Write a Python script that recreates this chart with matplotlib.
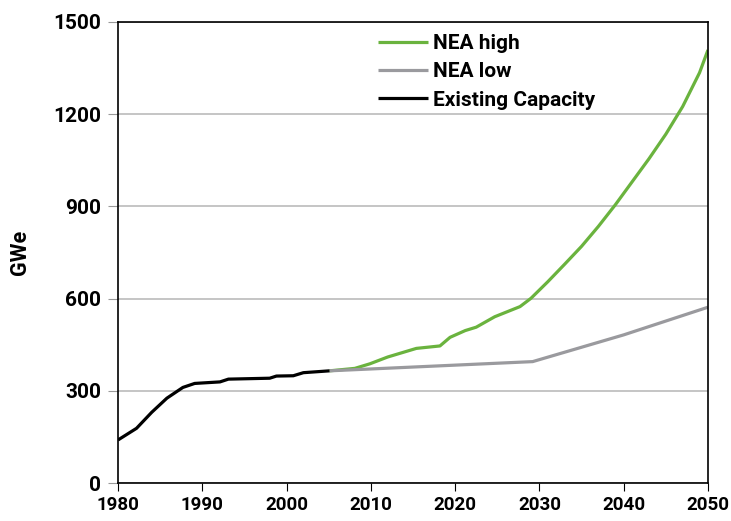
import matplotlib
matplotlib.use("Agg")
import matplotlib.pyplot as plt

# Existing capacity (GWe)
exist_years = [1980, 1982.2, 1984, 1985.8, 1987.7, 1989.1, 1992.1, 1993.1, 1998.0, 1998.8, 2000.8, 2002.0, 2005.1]
exist_vals = [140, 178, 230, 276, 311, 324, 329, 338, 341, 348, 349, 359, 365]

# NEA high projection
high_years = [2005.1, 2008.1, 2009.9, 2012, 2015.4, 2018.2, 2019.4, 2021.2, 2022.5, 2024.7, 2027.7,
              2029.0, 2031, 2033, 2035, 2037, 2039, 2041, 2043, 2045, 2047, 2049, 2050]
high_vals = [365, 373, 388, 410, 438, 446, 474, 496, 507, 541, 574,
             601, 655, 712, 770, 835, 905, 980, 1055, 1135, 1225, 1335, 1409]

# NEA low projection
low_years = [2005.1, 2029.2, 2040, 2050]
low_vals = [365, 395, 482, 572]

plt.rcParams['font.family'] = ['Roboto', 'DejaVu Sans']

fig = plt.figure(figsize=(7.31, 5.21), dpi=100)
ax = fig.add_axes([0.1614, 0.0729, 0.8071, 0.8849])

ax.plot(high_years, high_vals, color='#6ab33e', lw=2.3, label='NEA high', solid_capstyle='butt')
ax.plot(low_years, low_vals, color='#9a9a9e', lw=2.3, label='NEA low', solid_capstyle='butt')
ax.plot(exist_years, exist_vals, color='black', lw=2.3, label='Existing Capacity', solid_capstyle='butt')

ax.set_xlim(1980, 2050)
ax.set_ylim(0, 1500)
ax.set_xticks(range(1980, 2051, 10))
ax.set_yticks(range(0, 1501, 300))
ax.grid(axis='y', color='#bbbbbb', lw=1.2)
ax.set_axisbelow(True)

for s in ax.spines.values():
    s.set_color('black')
    s.set_linewidth(1.2)

ax.tick_params(axis='y', direction='out', length=7, color='#999999', labelsize=15, pad=5)
ax.tick_params(axis='x', direction='out', length=6, color='black', labelsize=13.5, pad=3)
for lbl in ax.get_xticklabels() + ax.get_yticklabels():
    lbl.set_fontweight('bold')
ax.set_ylabel('GWe', fontsize=15.5, fontweight='bold', labelpad=16)

leg = ax.legend(loc='upper left', bbox_to_anchor=(0.44, 0.974), frameon=False,
                prop={'size': 15, 'weight': 'bold'},
                handlelength=2.4, handletextpad=0.25, labelspacing=0.45,
                borderaxespad=0, borderpad=0)

fig.savefig('out.png', dpi=100)
